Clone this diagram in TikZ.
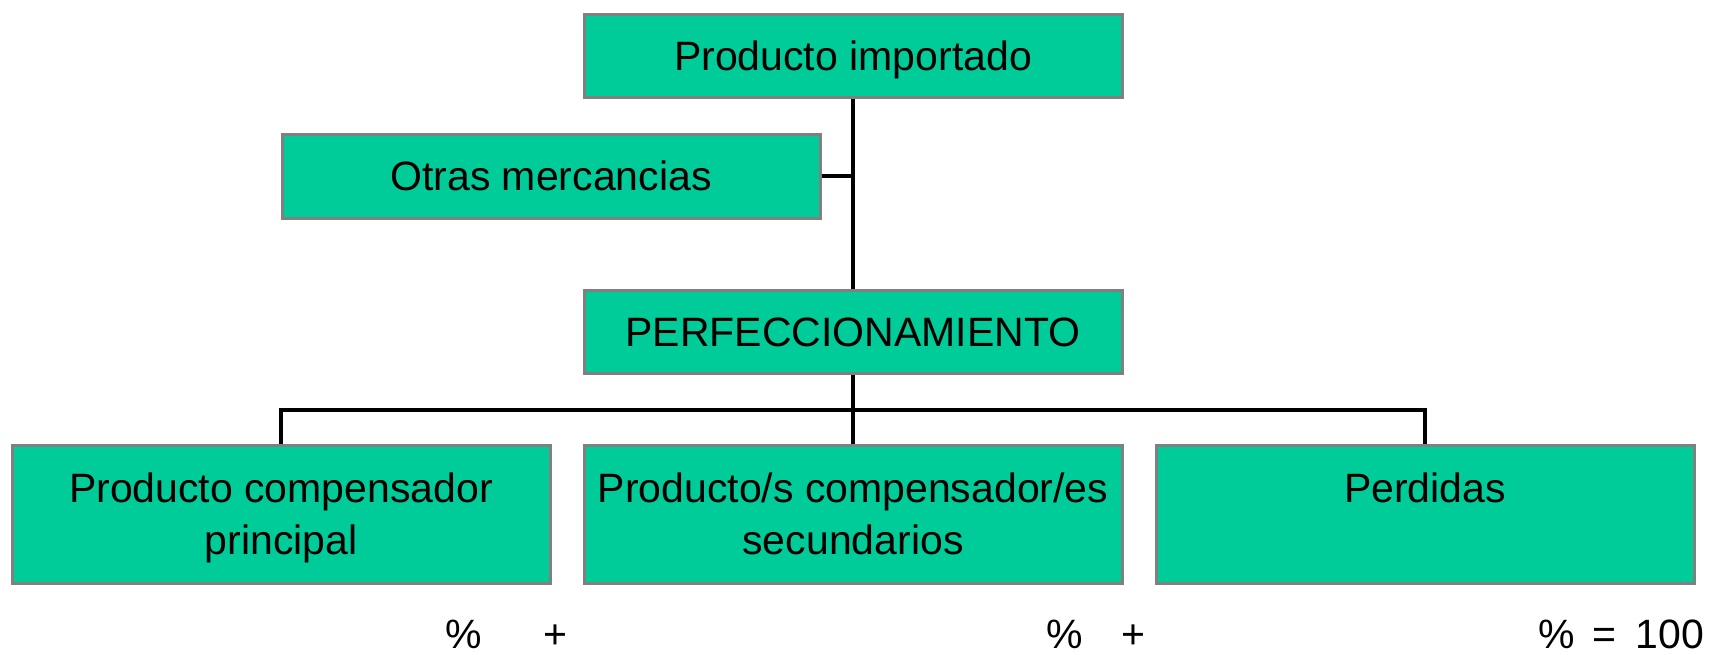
\documentclass[tikz,border=0pt]{standalone}
\usepackage{fontspec}
\setmainfont{Liberation Sans}
\definecolor{boxfill}{HTML}{00CC99}
\definecolor{boxline}{HTML}{808080}
\begin{document}
\begin{tikzpicture}[x=1pt,y=-1pt,
  font=\fontsize{41}{52}\selectfont,
  box/.style={draw=boxline, line width=3pt, fill=boxfill, inner sep=0pt,
              minimum width=538pt, text height=29.5pt, text depth=0pt},
  tbox/.style={draw=boxline, line width=3pt, fill=boxfill, inner sep=0pt,
              minimum width=538pt, minimum height=138pt},
  btext/.style={inner sep=0pt, anchor=north, align=center},
  conn/.style={line width=3.2pt, black},
  lbl/.style={inner sep=0pt, anchor=base}]
\useasboundingbox (0,0) rectangle (1713,654);
% top boxes
\node[box, minimum height=83pt] (imp) at (853,55.5) {Producto importado};
\node[box, minimum height=84pt] (otras) at (551,176) {Otras mercancias};
\node[box, minimum height=83pt] (perf) at (853,331.5) {PERFECCIONAMIENTO};
% bottom boxes
\node[tbox] (b1) at (281,514) {};
\node[tbox] (b2) at (853,514) {};
\node[tbox] (b3) at (1425,514) {};
\node[btext] (t1) at (281,473) {Producto compensador\\principal};
\node[btext] (t2) at (853,473) {Producto/s compensador/es\\secundarios};
\node[btext] (t3) at (1425,473) {Perdidas};
% connectors
\coordinate (bus) at (853,410);
\draw[conn] (imp.south) -- (perf.north);
\draw[conn] (otras.east) -- (otras.east -| imp.south);
\draw[conn] (perf.south) -- (bus);
\draw[conn] (bus) -- (b2.north);
\draw[conn] (b1.north) |- (bus) -| (b3.north);
% sum line
\node[lbl] (p1) at (464,648) {\%};
\node[lbl] (s1) at (555,648) {+};
\node[lbl] (p2) at (1065,648) {\%};
\node[lbl] (s2) at (1133,648) {+};
\node[lbl] (p3) at (1557,648) {\%};
\node[lbl] (eq) at (1604,648) {=};
\node[lbl, anchor=base east] (hund) at (1704,648) {100};
\end{tikzpicture}
\end{document}
